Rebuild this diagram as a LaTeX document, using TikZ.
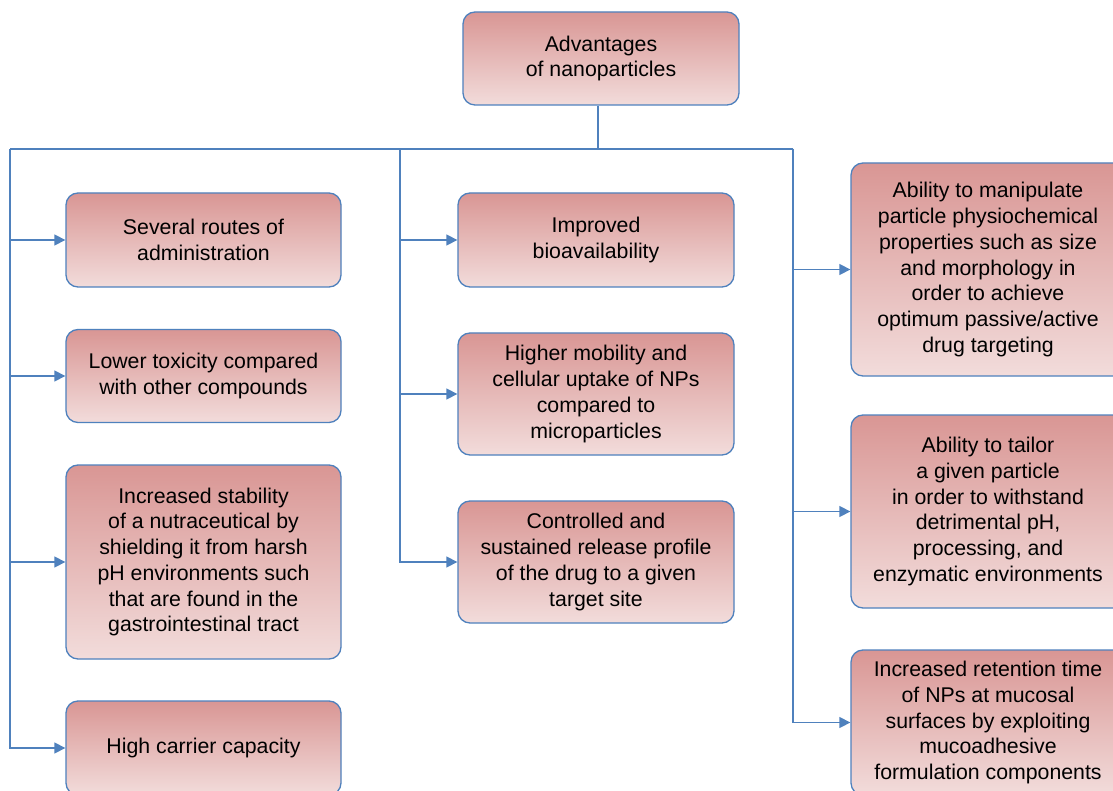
\documentclass[tikz,border=0pt]{standalone}
\usepackage{fontspec}
\setmainfont{Liberation Sans}
\usetikzlibrary{arrows.meta}
\definecolor{lineblue}{HTML}{4F81BD}
\definecolor{boxtop}{HTML}{D99694}
\definecolor{boxbot}{HTML}{F2DCDB}
\tikzset{
  box/.style={draw=lineblue, line width=1.3pt, rounded corners=12pt,
    top color=boxtop, bottom color=boxbot, align=center,
    font=\fontsize{21.3}{25.7}\selectfont, inner sep=0pt, text=black},
  conn/.style={draw=lineblue, line width=1.3pt},
  arr/.style={conn, -{Triangle[length=11pt,width=11pt]}}
}
\begin{document}
\begin{tikzpicture}[x=1pt,y=-1pt]
\useasboundingbox (0,0) rectangle (1113,791);
\fill[white] (0,0) rectangle (1113,791);

\node[box, minimum width=276pt, minimum height=93pt] (top) at (601,58.5) {Advantages\\of nanoparticles};

\node[box, minimum width=275pt, minimum height=94pt] (l1) at (203.5,240) {Several routes of\\administration};
\node[box, minimum width=275pt, minimum height=93pt] (l2) at (203.5,376) {Lower toxicity compared\\with other compounds};
\node[box, minimum width=275pt, minimum height=194pt] (l3) at (203.5,562) {Increased stability\\of a nutraceutical by\\shielding it from harsh\\pH environments such\\that are found in the\\gastrointestinal tract};
\node[box, minimum width=275pt, minimum height=94pt] (l4) at (203.5,748) {High carrier capacity};

\node[box, minimum width=276pt, minimum height=94pt] (m1) at (596,240) {Improved\\bioavailability};
\node[box, minimum width=276pt, minimum height=122pt] (m2) at (596,394) {Higher mobility and\\cellular uptake of NPs\\compared to\\microparticles};
\node[box, minimum width=276pt, minimum height=122pt] (m3) at (596,562) {Controlled and\\sustained release profile\\of the drug to a given\\target site};

\node[box, minimum width=274pt, minimum height=213pt] (r1) at (988,269.5) {Ability to manipulate\\particle physiochemical\\properties such as size\\and morphology in\\order to achieve\\optimum passive/active\\drug targeting};
\node[box, minimum width=274pt, minimum height=193pt] (r2) at (988,511.5) {Ability to tailor\\a given particle\\in order to withstand\\detrimental pH,\\processing, and\\enzymatic environments};
\node[box, minimum width=274pt, minimum height=145pt] (r3) at (988,722.5) {Increased retention time\\of NPs at mucosal\\surfaces by exploiting\\mucoadhesive\\formulation components};

\coordinate (jc) at (598,149);
\coordinate (jl) at (10,149);
\coordinate (jm) at (400,149);
\coordinate (jr) at (793,149);

\draw[conn] (top.south -| jc) -- (jc);
\draw[conn] (jl) -- (jr);

\draw[arr] (jl) |- (l1.west);
\draw[arr] (jl) |- (l2.west);
\draw[arr] (jl) |- (l3.west);
\draw[arr] (jl) |- (l4.west);

\draw[arr] (jm) |- (m1.west);
\draw[arr] (jm) |- (m2.west);
\draw[arr] (jm) |- (m3.west);

\draw[arr] (jr) |- (r1.west);
\draw[arr] (jr) |- (r2.west);
\draw[arr] (jr) |- (r3.west);
\end{tikzpicture}
\end{document}
